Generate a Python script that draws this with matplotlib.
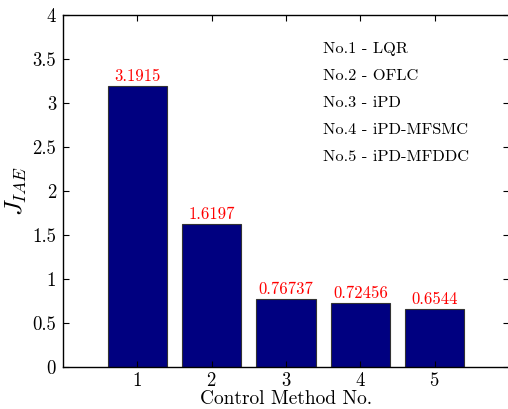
import matplotlib
matplotlib.use("Agg")
import matplotlib.pyplot as plt

plt.rcParams['font.family'] = 'cmr10'
plt.rcParams['mathtext.fontset'] = 'cm'
plt.rcParams['axes.formatter.use_mathtext'] = True

methods = [1, 2, 3, 4, 5]
j_iae = [3.1915, 1.6197, 0.76737, 0.72456, 0.6544]
value_labels = ['3.1915', '1.6197', '0.76737', '0.72456', '0.6544']
legend_lines = ['No.1 - LQR', 'No.2 - OFLC', 'No.3 - iPD',
                'No.4 - iPD-MFSMC', 'No.5 - iPD-MFDDC']

fig = plt.figure(figsize=(5.08, 4.09), dpi=100)
ax = fig.add_axes([63 / 508, 42 / 409, 446 / 508, 352 / 409])

ax.bar(methods, j_iae, width=0.8, color='#000080', edgecolor='#333333', linewidth=0.8)

for m, v, s in zip(methods, j_iae, value_labels):
    ax.text(m, v + 0.03, s, color='red', fontsize=12, ha='center', va='bottom')

for k, line in enumerate(legend_lines):
    ax.text(3.5, 3.61 - 0.305 * k, line, fontsize=11.8, ha='left', va='center')

ax.set_xlim(0, 6)
ax.set_ylim(0, 4)
ax.set_xticks(methods)
ax.set_yticks([0, 0.5, 1, 1.5, 2, 2.5, 3, 3.5, 4])
ax.set_yticklabels(['0', '0.5', '1', '1.5', '2', '2.5', '3', '3.5', '4'])
ax.tick_params(direction='in', top=True, right=True, length=4, width=0.8,
               labelsize=13.5, pad=5)
ax.tick_params(axis='x', pad=3.5)
for sp in ax.spines.values():
    sp.set_linewidth(1.0)

ax.set_xlabel('Control Method No.', fontsize=14, labelpad=0)
ax.set_ylabel(r'$J_{IAE}$', fontsize=18, labelpad=2)

fig.savefig('out.png', dpi=100)
